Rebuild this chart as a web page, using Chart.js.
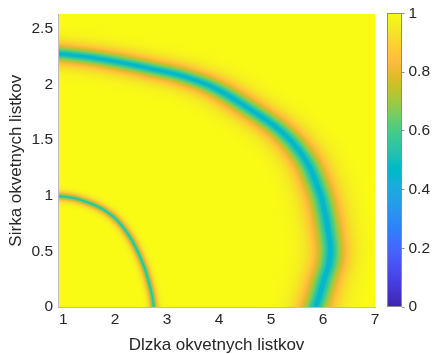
<!DOCTYPE html>
<html>
<head>
<meta charset="utf-8">
<script src="https://cdn.jsdelivr.net/npm/chart.js@4.4.1/dist/chart.umd.min.js"></script>
<style>
  html, body { margin: 0; padding: 0; background: #fff; }
  #wrap { position: relative; width: 433px; height: 354px; }
  #main { position: absolute; left: 0; top: 0; }
  #cbar { position: absolute; left: 380px; top: 0; }
</style>
</head>
<body>
<div id="wrap">
  <canvas id="main" width="433" height="354" style="width:433px;height:354px"></canvas>
  <canvas id="cbar" width="53" height="354" style="width:53px;height:354px"></canvas>
</div>
<script>
var FONT = '"Liberation Sans", Arial, Helvetica, sans-serif';
var TEXT = '#262626';
var PROFILE_POWER = 1.3;   // how quickly a ring fades into the background

// Axes
var xTicks = [1, 2, 3, 4, 5, 6, 7];
var yTicks = [0, 0.5, 1, 1.5, 2, 2.5];
var cbTicks = [0, 0.2, 0.4, 0.6, 0.8, 1];
var xRange = [0.9, 7.0];
var yRange = [0, 2.63];

// Inner ring: centre line, value at its middle, half-width (x, y units)
var innerX = [0.85, 1.23, 1.62, 1.9, 2.12, 2.32, 2.47, 2.58, 2.66, 2.715, 2.742, 2.75];
var innerY = [1.0, 0.975, 0.912, 0.835, 0.735, 0.6, 0.46, 0.33, 0.2, 0.09, 0.0, -0.05];
var innerMin = 0.52;
var innerSpread = [0.066, 0.03];

// Outer ring
var outerX = [0.85, 1.5, 2.13, 2.7, 3.29, 3.9, 4.54, 5.2, 5.65, 5.92, 6.04, 6.12, 6.14, 6.11, 6.03, 5.95, 5.86, 5.84];
var outerY = [2.28, 2.245, 2.195, 2.14, 2.076, 1.97, 1.793, 1.575, 1.33, 1.05, 0.84, 0.62, 0.5, 0.38, 0.26, 0.13, 0.0, -0.04];
var outerMin = 0.44;
var outerSpread = [0.26, 0.072];

// parula, 64 entries
var parula = [
  '#3e26a8','#402ab4','#422ec0','#4332cb','#4537d5','#463cde','#4741e5','#4747eb',
  '#484df0','#4852f4','#4758f8','#465efb','#4563fd','#4269fe','#3e6fff','#3875fe',
  '#327cfc','#2f81fa','#2e87f7','#2d8cf3','#2b91ef','#2797eb','#259be8','#23a0e5',
  '#20a5e3','#1ca9df','#18addb','#12b1d6','#08b5d0','#01b8ca','#02bac3','#0bbdbd',
  '#19bfb6','#24c1ae','#2cc4a7','#31c69f','#37c897','#3fca8e','#4acb84','#57cc7a',
  '#64cd6f','#72cd64','#81cc59','#8fcb4e','#9dc943','#abc739','#b9c431','#c5c22a',
  '#d1bf27','#dcbd29','#e6bb2d','#f0ba36','#f8ba3d','#febe3c','#fec338','#fec934',
  '#fccf30','#fad62d','#f7dc2a','#f5e327','#f5e924','#f6ef20','#f7f51b','#f9fb15'
];

var cmapRGB = parula.map(function(h) {
  return [parseInt(h.substr(1, 2), 16), parseInt(h.substr(3, 2), 16), parseInt(h.substr(5, 2), 16)];
});

function colorFor(v) {
  v = Math.max(0, Math.min(1, v));
  var f = v * (cmapRGB.length - 1);
  var i = Math.min(cmapRGB.length - 2, Math.floor(f));
  var t = f - i;
  var a = cmapRGB[i], b = cmapRGB[i + 1];
  return [a[0] + (b[0] - a[0]) * t, a[1] + (b[1] - a[1]) * t, a[2] + (b[2] - a[2]) * t];
}

// Smooth path through the ring points (like a line's tension), in spread units
function smoothPath(px, py, steps) {
  var ox = [], oy = [], n = px.length;
  for (var i = 0; i < n - 1; i++) {
    var i0 = Math.max(0, i - 1), i3 = Math.min(n - 1, i + 2);
    for (var s = 0; s < steps; s++) {
      var t = s / steps, t2 = t * t, t3 = t2 * t;
      var b0 = -0.5 * t3 + t2 - 0.5 * t;
      var b1 = 1.5 * t3 - 2.5 * t2 + 1;
      var b2 = -1.5 * t3 + 2 * t2 + 0.5 * t;
      var b3 = 0.5 * t3 - 0.5 * t2;
      ox.push(b0 * px[i0] + b1 * px[i] + b2 * px[i + 1] + b3 * px[i3]);
      oy.push(b0 * py[i0] + b1 * py[i] + b2 * py[i + 1] + b3 * py[i3]);
    }
  }
  ox.push(px[n - 1]); oy.push(py[n - 1]);
  return { x: ox, y: oy };
}

function makeRing(xs, ys, spread, minV) {
  var p = smoothPath(
    xs.map(function(v) { return v / spread[0]; }),
    ys.map(function(v) { return v / spread[1]; }), 10);
  return { x: p.x, y: p.y, sx: spread[0], sy: spread[1], depth: 1 - minV };
}
var rings = [
  makeRing(innerX, innerY, innerSpread, innerMin),
  makeRing(outerX, outerY, outerSpread, outerMin)
];

function ringValue(r, x, y) {
  var px = x / r.sx, py = y / r.sy, best = Infinity;
  for (var i = 0; i < r.x.length - 1; i++) {
    var ax = r.x[i], ay = r.y[i];
    var dx = r.x[i + 1] - ax, dy = r.y[i + 1] - ay;
    var len = dx * dx + dy * dy;
    var t = len > 0 ? ((px - ax) * dx + (py - ay) * dy) / len : 0;
    if (t < 0) t = 0; else if (t > 1) t = 1;
    var ex = ax + t * dx - px, ey = ay + t * dy - py;
    var d2 = ex * ex + ey * ey;
    if (d2 < best) best = d2;
  }
  return 1 - r.depth * Math.exp(-Math.pow(Math.sqrt(best), PROFILE_POWER));
}

// Paint the field under the axes, one canvas pixel per cell
var fieldPlugin = {
  id: 'field',
  beforeDraw: function(chart) {
    var area = chart.chartArea, xs = chart.scales.x, ys = chart.scales.y;
    var left = Math.round(area.left), top = Math.round(area.top);
    var w = Math.round(area.right) - left, h = Math.round(area.bottom) - top;
    var off = document.createElement('canvas');
    off.width = w; off.height = h;
    var octx = off.getContext('2d');
    var img = octx.createImageData(w, h);
    for (var j = 0; j < h; j++) {
      var yv = ys.getValueForPixel(top + j + 0.5);
      for (var i = 0; i < w; i++) {
        var xv = xs.getValueForPixel(left + i + 0.5);
        var v = 1;
        for (var k = 0; k < rings.length; k++) v = Math.min(v, ringValue(rings[k], xv, yv));
        var c = colorFor(v), p = (j * w + i) * 4;
        img.data[p] = c[0]; img.data[p + 1] = c[1]; img.data[p + 2] = c[2]; img.data[p + 3] = 255;
      }
    }
    octx.putImageData(img, 0, 0);
    chart.ctx.drawImage(off, left, top);
  }
};

var cbarPlugin = {
  id: 'cbarFill',
  beforeDraw: function(chart) {
    var area = chart.chartArea, ys = chart.scales.y, ctx = chart.ctx;
    for (var py = Math.floor(area.top); py < Math.ceil(area.bottom); py++) {
      var c = colorFor(ys.getValueForPixel(py + 0.5));
      ctx.fillStyle = 'rgb(' + Math.round(c[0]) + ',' + Math.round(c[1]) + ',' + Math.round(c[2]) + ')';
      ctx.fillRect(area.left, py, area.right - area.left, 1);
    }
    ctx.strokeStyle = '#8c8c8c';
    ctx.lineWidth = 1;
    ctx.strokeRect(Math.round(area.left) + 0.5, Math.round(area.top) + 0.5,
      Math.round(area.right - area.left) - 1, Math.round(area.bottom - area.top) - 1);
  }
};

function tickFont() { return { family: FONT, size: 15.5 }; }

new Chart(document.getElementById('main'), {
  type: 'scatter',
  data: { datasets: [] },
  options: {
    responsive: false,
    animation: false,
    events: [],
    layout: { padding: { top: 13, right: 58, left: 0, bottom: 0 } },
    plugins: { legend: { display: false }, tooltip: { enabled: false } },
    scales: {
      x: {
        type: 'linear',
        min: xRange[0],
        max: xRange[1],
        afterBuildTicks: function(s) { s.ticks = xTicks.map(function(v) { return { value: v }; }); },
        afterFit: function(s) { s.height = 47; },
        grid: { display: false, drawTicks: false },
        border: { display: true, color: '#bdbdbd', width: 1 },
        ticks: {
          padding: 3, color: TEXT, font: tickFont(), maxRotation: 0, autoSkip: false,
          callback: function(v) { return String(v); }
        },
        title: {
          display: true, text: 'Dlzka okvetnych listkov', color: TEXT,
          font: { family: FONT, size: 17, lineHeight: 1 }, padding: { top: 0, bottom: 0 }
        }
      },
      y: {
        type: 'linear',
        min: yRange[0],
        max: yRange[1],
        afterBuildTicks: function(s) { s.ticks = yTicks.map(function(v) { return { value: v }; }); },
        afterFit: function(s) { s.width = 58; },
        grid: { display: false, drawTicks: false },
        border: { display: true, color: '#bdbdbd', width: 1 },
        ticks: {
          padding: 5, color: TEXT, font: tickFont(), autoSkip: false,
          callback: function(v) { return String(v); }
        },
        title: {
          display: true, text: 'Sirka okvetnych listkov', color: TEXT,
          font: { family: FONT, size: 17, lineHeight: 1 }, padding: { top: 8, bottom: 0 }
        }
      }
    }
  },
  plugins: [fieldPlugin]
});

new Chart(document.getElementById('cbar'), {
  type: 'scatter',
  data: { datasets: [] },
  options: {
    responsive: false,
    animation: false,
    events: [],
    layout: { padding: { top: 13, bottom: 47, left: 7, right: 0 } },
    plugins: { legend: { display: false }, tooltip: { enabled: false } },
    scales: {
      x: { type: 'linear', display: false, min: 0, max: 1 },
      y: {
        type: 'linear',
        position: 'right',
        min: 0,
        max: 1,
        afterBuildTicks: function(s) { s.ticks = cbTicks.map(function(v) { return { value: v }; }); },
        afterFit: function(s) { s.width = 31.5; },
        grid: { display: true, drawOnChartArea: false, drawTicks: true, tickLength: 3, color: '#8c8c8c' },
        border: { display: false },
        ticks: {
          padding: 4, color: TEXT, font: tickFont(), autoSkip: false,
          callback: function(v) { return String(v); }
        }
      }
    }
  },
  plugins: [cbarPlugin]
});
</script>
</body>
</html>
